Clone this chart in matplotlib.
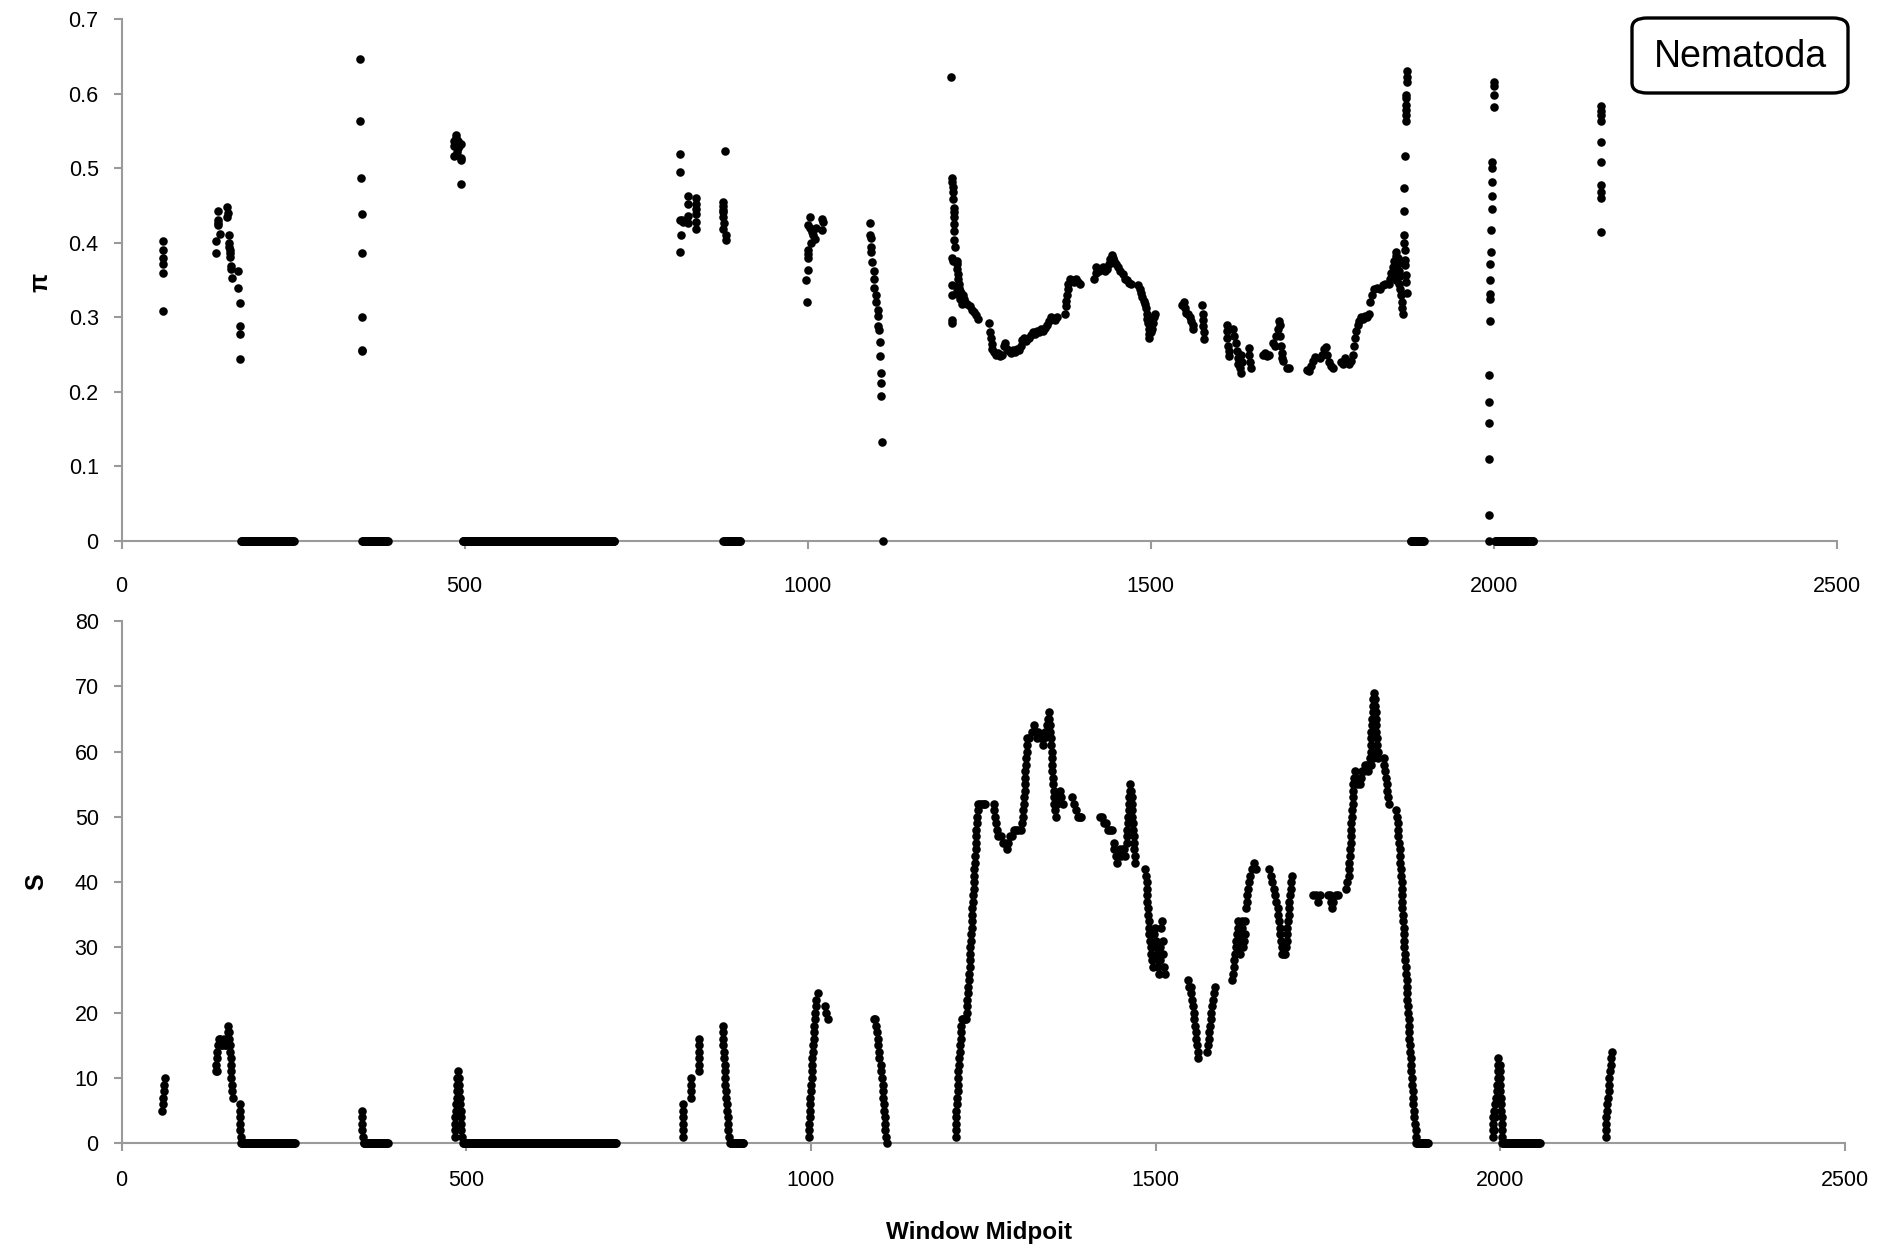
import numpy as np
import matplotlib
matplotlib.use("Agg")
import matplotlib.pyplot as plt
from matplotlib.patches import FancyBboxPatch

plt.rcParams["font.family"] = ["Liberation Sans", "DejaVu Sans"]

# ---------------- nucleotide diversity (pi) ----------------
pi_left_x = [60, 60, 61, 61, 61, 60,
             138, 138, 140, 140, 141, 141, 143, 154, 154, 155, 157, 157, 157, 158, 158, 158,
             159, 159, 161, 170, 170, 173, 173, 173, 173,
             348, 348, 349, 350, 350, 350, 350, 351,
             487, 485, 491, 494, 485, 490, 485, 494, 495, 494, 488, 492, 489,
             814, 814, 814, 815, 814, 817, 818, 826, 826, 826, 826, 837, 837, 837, 837, 837, 837,
             879, 876, 877, 876, 876, 877, 878, 877, 881, 881,
             1004, 1000, 1003, 1006, 1008, 1010, 1000, 1001, 1001, 1000, 998, 999, 1021, 1022, 1021,
             1012, 1005,
             1091, 1091, 1092, 1093, 1093, 1094, 1096, 1096, 1097, 1099, 1099, 1103, 1103, 1103,
             1104, 1105, 1106, 1107, 1107, 1107, 1108, 1110]
pi_left_y = [0.403, 0.390, 0.380, 0.372, 0.360, 0.308,
             0.403, 0.386, 0.443, 0.431, 0.427, 0.424, 0.412, 0.448, 0.435, 0.440, 0.411, 0.400,
             0.395, 0.391, 0.386, 0.381, 0.369, 0.365, 0.353, 0.362, 0.340, 0.319, 0.288, 0.278,
             0.244,
             0.647, 0.563, 0.487, 0.439, 0.387, 0.300, 0.256, 0.255,
             0.544, 0.537, 0.536, 0.533, 0.530, 0.527, 0.517, 0.514, 0.511, 0.479, 0.540, 0.530,
             0.522,
             0.519, 0.495, 0.431, 0.410, 0.388, 0.431, 0.428, 0.463, 0.452, 0.436, 0.427, 0.460,
             0.452, 0.445, 0.439, 0.428, 0.418,
             0.523, 0.455, 0.450, 0.444, 0.441, 0.434, 0.427, 0.419, 0.410, 0.404,
             0.435, 0.424, 0.420, 0.415, 0.410, 0.405, 0.390, 0.385, 0.380, 0.364, 0.350, 0.320,
             0.432, 0.428, 0.417, 0.420, 0.400,
             0.427, 0.410, 0.406, 0.395, 0.388, 0.374, 0.362, 0.352, 0.340, 0.330, 0.321, 0.310,
             0.302, 0.288, 0.283, 0.267, 0.248, 0.225, 0.212, 0.195, 0.133, 0.0]

pi_right_x = [1209,
              1211, 1211, 1212, 1212, 1212, 1213, 1213, 1213, 1214, 1214, 1214, 1215, 1211, 1212,
              1211, 1211, 1211, 1211,
              1217, 1218, 1218, 1219, 1219, 1220, 1221, 1222, 1224, 1226, 1228, 1230, 1233, 1236,
              1239, 1242, 1245, 1248, 1218, 1220, 1222, 1225,
              1265, 1266, 1267, 1268, 1269, 1271, 1274, 1277, 1280, 1283, 1286, 1288, 1290, 1293,
              1296, 1299, 1302, 1305, 1308, 1311, 1313, 1316, 1319, 1322, 1325, 1328, 1331, 1334,
              1337, 1340, 1343, 1346, 1349, 1352, 1355, 1358, 1361, 1364,
              1375, 1376, 1377, 1378, 1379, 1380, 1382, 1385, 1388, 1391, 1394, 1397,
              1418, 1420, 1421, 1424, 1427, 1430, 1433, 1436, 1439, 1441, 1443, 1445, 1447, 1450,
              1453, 1456, 1459, 1462, 1465, 1468, 1471,
              1482, 1484, 1486, 1488, 1490, 1492, 1493, 1494, 1495, 1496, 1497, 1497, 1498, 1500,
              1502, 1504, 1505, 1506,
              1546, 1548, 1550, 1552, 1555, 1557, 1559, 1561, 1562, 1575, 1576, 1576, 1577, 1578,
              1578,
              1611, 1612, 1612, 1613, 1614, 1614, 1620, 1622, 1624, 1626, 1627, 1628, 1630, 1631,
              1632, 1633, 1643, 1644, 1645, 1646, 1664, 1667, 1670, 1673, 1679, 1681, 1683, 1685,
              1687, 1688, 1689, 1690, 1691, 1692, 1693, 1699, 1701,
              1728, 1731, 1734, 1737, 1740, 1747, 1750, 1753, 1755, 1757, 1760, 1763, 1766, 1777,
              1780, 1783, 1786, 1789, 1792, 1795, 1797, 1798, 1800, 1802, 1804, 1806, 1809, 1812,
              1815, 1818, 1820, 1823, 1826, 1830, 1834, 1838, 1841, 1847, 1849, 1851, 1853, 1855,
              1857, 1858, 1860, 1862, 1863, 1862, 1864, 1865, 1866, 1867, 1868, 1855, 1858, 1860,
              1873, 1874, 1874, 1872, 1872, 1872, 1872, 1872, 1872, 1871, 1870, 1870, 1870, 1870,
              1871, 1871, 1871, 1872, 1872, 1873,
              1993, 1993, 1993, 1993, 1993, 1993, 1994, 1994, 1995, 1995, 1995, 1996, 1996, 1997,
              1997, 1997, 1997, 1998, 2000, 2000, 2000, 2000,
              2157, 2157, 2157, 2156, 2156, 2157, 2157, 2157, 2157, 2156]
pi_right_y = [0.622,
              0.487, 0.482, 0.475, 0.468, 0.459, 0.447, 0.441, 0.435, 0.425, 0.416, 0.404, 0.395,
              0.380, 0.376, 0.343, 0.330, 0.297, 0.292,
              0.376, 0.372, 0.365, 0.358, 0.352, 0.345, 0.340, 0.336, 0.333, 0.330, 0.325, 0.320,
              0.318, 0.315, 0.310, 0.307, 0.303, 0.298, 0.335, 0.330, 0.325, 0.318,
              0.292, 0.280, 0.272, 0.264, 0.258, 0.254, 0.250, 0.252, 0.248, 0.250, 0.262, 0.266,
              0.258, 0.255, 0.252, 0.256, 0.254, 0.258, 0.256, 0.262, 0.270, 0.272, 0.268, 0.272,
              0.276, 0.280, 0.278, 0.282, 0.280, 0.284, 0.282, 0.286, 0.290, 0.295, 0.300, 0.298,
              0.296, 0.300,
              0.305, 0.315, 0.322, 0.330, 0.338, 0.345, 0.352, 0.350, 0.348, 0.352, 0.347, 0.345,
              0.352, 0.360, 0.367, 0.362, 0.365, 0.368, 0.362, 0.365, 0.372, 0.378, 0.384, 0.380,
              0.376, 0.372, 0.368, 0.362, 0.358, 0.352, 0.350, 0.346, 0.345,
              0.343, 0.338, 0.333, 0.328, 0.322, 0.318, 0.312, 0.305, 0.298, 0.292, 0.285, 0.278,
              0.273, 0.280, 0.285, 0.292, 0.300, 0.304,
              0.316, 0.321, 0.312, 0.306, 0.304, 0.300, 0.295, 0.290, 0.285, 0.316, 0.305, 0.296,
              0.288, 0.280, 0.271,
              0.290, 0.282, 0.272, 0.262, 0.255, 0.248, 0.285, 0.275, 0.265, 0.255, 0.245, 0.238,
              0.232, 0.226, 0.250, 0.240, 0.259, 0.250, 0.240, 0.232, 0.250, 0.252, 0.248, 0.250,
              0.265, 0.262, 0.275, 0.285, 0.295, 0.290, 0.275, 0.262, 0.252, 0.245, 0.242, 0.232,
              0.232,
              0.230, 0.228, 0.235, 0.242, 0.247, 0.245, 0.250, 0.258, 0.260, 0.250, 0.240, 0.235,
              0.232, 0.240, 0.237, 0.245, 0.240, 0.238, 0.242, 0.250, 0.262, 0.272, 0.282, 0.290,
              0.295, 0.300, 0.298, 0.302, 0.300, 0.305, 0.320, 0.330, 0.338, 0.340, 0.338, 0.343,
              0.345, 0.345, 0.352, 0.360, 0.368, 0.375, 0.383, 0.388, 0.380, 0.362, 0.355, 0.345,
              0.338, 0.330, 0.320, 0.312, 0.305, 0.360, 0.350, 0.372,
              0.630, 0.622, 0.616, 0.598, 0.594, 0.585, 0.578, 0.571, 0.563, 0.516, 0.473, 0.443,
              0.411, 0.400, 0.391, 0.377, 0.370, 0.357, 0.348, 0.333,
              0.035, 0.0, 0.110, 0.158, 0.187, 0.223, 0.295, 0.324, 0.332, 0.350, 0.372, 0.388,
              0.417, 0.446, 0.463, 0.482, 0.500, 0.508, 0.582, 0.598, 0.610, 0.616,
              0.583, 0.577, 0.571, 0.563, 0.535, 0.508, 0.477, 0.468, 0.460, 0.414]

# windows (first, last midpoint) where pi is zero
pi_zero_runs = [(174, 251), (351, 388), (497, 718), (877, 902), (1879, 1898), (2002, 2058)]

# ---------------- segregating sites (S) ----------------
s_left_x = [59, 60, 60, 61, 62, 63,
            137, 137, 138, 138, 139, 140, 141, 142, 144, 146, 148, 150, 152, 153, 154, 155, 156,
            156, 157, 157, 158, 158, 159, 159, 160, 160, 161, 171, 171, 172, 172, 172, 173,
            348, 348, 349, 349, 350,
            483, 483, 484, 484, 485, 485, 486, 486, 487, 487, 488, 489, 490, 490, 491, 491, 492,
            492, 493, 493, 494,
            814, 814, 814, 814, 814, 814, 826, 826, 826, 826, 838, 838, 838, 838, 838, 838,
            872, 872, 873, 873, 874, 874, 875, 875, 876, 876, 877, 877, 878, 878, 879, 879, 880, 881,
            997, 997, 997, 998, 998, 999, 999, 1000, 1000, 1001, 1001, 1002, 1002, 1003, 1003,
            1004, 1004, 1005, 1006, 1006, 1007, 1008, 1010, 1021, 1022, 1025,
            1091, 1093, 1095, 1096, 1097, 1097, 1098, 1099, 1101, 1102, 1103, 1104, 1104, 1105,
            1106, 1106, 1107, 1107, 1108, 1109, 1110]
s_left_y = [5, 6, 7, 8, 9, 10,
            11, 12, 11, 13, 14, 15, 16, 16, 15, 15, 16, 15, 15, 16, 17, 18, 17,
            16, 15, 14, 13, 12, 11, 10, 9, 8, 7, 6, 5, 4, 3, 2, 1,
            5, 4, 3, 2, 1,
            1, 2, 3, 4, 5, 6, 7, 8, 9, 10, 11, 10, 9, 8, 7, 6, 5,
            4, 3, 2, 1,
            1, 2, 3, 4, 5, 6, 7, 8, 9, 10, 11, 12, 13, 14, 15, 16,
            18, 17, 16, 15, 14, 13, 12, 11, 10, 9, 8, 7, 6, 5, 4, 3, 2, 1,
            1, 2, 3, 4, 5, 6, 7, 8, 9, 10, 11, 12, 13, 14, 15,
            16, 17, 18, 19, 20, 21, 22, 23, 21, 20, 19,
            19, 19, 18, 17, 16, 15, 14, 13, 12, 11, 10, 9, 8, 7,
            6, 5, 4, 3, 2, 1, 0]

s_right_x = [1210, 1210, 1210, 1211, 1211, 1212, 1212, 1213, 1213, 1214, 1214, 1215, 1215, 1216,
             1216, 1217, 1217, 1218, 1219, 1221, 1223, 1225, 1226, 1227, 1227, 1228, 1228, 1229,
             1229, 1230, 1230, 1231, 1231, 1232, 1232, 1233, 1233, 1234, 1234, 1235, 1235, 1236,
             1236, 1237, 1237, 1238, 1238, 1239, 1239, 1240, 1240, 1241, 1241, 1242, 1243, 1245,
             1248, 1251, 1253,
             1265, 1266, 1267, 1268, 1270, 1272, 1275, 1278, 1281, 1284, 1286, 1289, 1292, 1295,
             1298, 1301, 1304, 1306, 1307, 1308, 1309, 1309, 1310, 1310, 1311, 1311, 1312, 1312,
             1313, 1313, 1314, 1316, 1320, 1324, 1326, 1328, 1330, 1333, 1336, 1338, 1340, 1342,
             1344, 1345, 1346, 1347, 1347, 1348, 1348, 1349, 1349, 1350, 1350, 1351, 1351, 1352,
             1352, 1353, 1354, 1355, 1357, 1359, 1361, 1363, 1365,
             1378, 1381, 1384, 1387, 1390, 1392,
             1419, 1422, 1425, 1428, 1431, 1434, 1437, 1439, 1440, 1442, 1444, 1446, 1448, 1450,
             1452, 1454, 1456,
             1458, 1459, 1459, 1460, 1460, 1461, 1461, 1462, 1463, 1463, 1464, 1465, 1465, 1466,
             1466, 1467, 1467, 1468, 1468, 1469, 1470, 1470,
             1485, 1486, 1487, 1487, 1488, 1488, 1489, 1489, 1490, 1491, 1491, 1492, 1493, 1494,
             1495, 1496, 1498, 1499, 1500, 1501, 1502, 1503, 1504, 1505, 1506, 1507, 1508, 1509,
             1510, 1511, 1512, 1513,
             1547, 1549, 1551, 1552, 1553, 1554, 1555, 1556, 1557, 1558, 1559, 1560, 1561, 1562,
             1575, 1576, 1577, 1578, 1579, 1580, 1581, 1582, 1583, 1584, 1586,
             1611, 1612, 1613, 1614, 1615, 1616, 1617, 1618, 1619, 1620, 1621, 1622, 1623, 1624,
             1625, 1626, 1627, 1628, 1629, 1630, 1631, 1632, 1633, 1634, 1635, 1637, 1640, 1643,
             1646,
             1665, 1667, 1669, 1671, 1673, 1675, 1677, 1678, 1679, 1680, 1681, 1682, 1683, 1684,
             1686, 1688, 1689, 1690, 1691, 1691, 1692, 1693, 1693, 1694, 1695, 1696, 1697, 1698,
             1728, 1732, 1735, 1738, 1750, 1753, 1755, 1756, 1758, 1761, 1764, 1776, 1778,
             1780, 1781, 1781, 1782, 1782, 1783, 1783, 1784, 1784, 1785, 1785, 1786, 1786, 1787,
             1787, 1788, 1789, 1790, 1792, 1794, 1796, 1798, 1800, 1802, 1804, 1806, 1808, 1810,
             1811, 1812, 1812, 1813, 1813, 1814, 1814, 1815, 1815, 1816, 1817, 1818, 1818, 1819,
             1819, 1820, 1820, 1821, 1821, 1822, 1822, 1813, 1816, 1818,
             1831, 1832, 1833, 1834, 1835, 1836, 1837, 1838, 1849, 1850, 1851, 1851,
             1852, 1853, 1854, 1855, 1855, 1856, 1856, 1857, 1857, 1858, 1858, 1858, 1859, 1859,
             1860, 1860, 1861, 1861, 1862, 1862, 1863, 1863, 1864, 1864, 1865, 1865, 1866, 1866,
             1867, 1867, 1868, 1868, 1869, 1869, 1870, 1871, 1871, 1872, 1872, 1873, 1874, 1874,
             1875, 1875, 1876, 1877, 1878,
             1990, 1990, 1990, 1990, 1991, 1993, 1994, 1995, 1995, 1996, 1996, 1997, 1997, 1999,
             1999, 2000, 2000, 2000, 2001, 2001, 2001, 2002, 2002, 2002, 2003, 1991, 1992,
             2153, 2153, 2154, 2154, 2155, 2155, 2156, 2157, 2157, 2158, 2159, 2160, 2161, 2162]
s_right_y = [1, 2, 3, 4, 5, 6, 7, 8, 9, 10, 11, 12, 13, 14,
             15, 16, 17, 18, 19, 19, 19, 19, 20, 21, 22, 23, 24, 25,
             26, 27, 28, 29, 30, 31, 32, 33, 34, 35, 36, 37, 38, 39,
             40, 41, 42, 43, 44, 45, 46, 47, 48, 49, 50, 51, 52, 52,
             52, 52, 52,
             52, 51, 50, 49, 48, 47, 47, 46, 46, 45, 46, 47, 47, 48,
             48, 48, 48, 49, 50, 51, 52, 53, 54, 55, 56, 57, 58, 59,
             60, 61, 62, 62, 63, 64, 63, 62, 63, 62, 61, 62, 63, 64,
             65, 66, 65, 64, 63, 62, 61, 60, 59, 58, 57, 56, 55, 54,
             53, 52, 51, 50, 52, 53, 54, 53, 52,
             53, 52, 51, 50, 50, 50,
             50, 50, 49, 49, 48, 48, 48, 46, 45, 44, 43, 44, 45, 44,
             45, 45, 44,
             46, 47, 48, 49, 50, 51, 52, 53, 54, 55, 54, 53, 52, 51,
             50, 49, 48, 47, 46, 45, 44, 43,
             42, 41, 40, 39, 38, 37, 36, 35, 34, 33, 32, 31, 30, 29,
             28, 27, 32, 33, 31, 30, 29, 28, 27, 26, 28, 30, 33, 34,
             31, 29, 27, 26,
             25, 24, 24, 23, 22, 21, 20, 19, 18, 17, 16, 15, 14, 13,
             14, 15, 16, 17, 18, 19, 20, 21, 22, 23, 24,
             25, 26, 27, 28, 29, 30, 31, 32, 33, 34, 30, 29, 31, 32,
             33, 34, 30, 31, 32, 34, 36, 37, 38, 39, 40, 41, 42, 43,
             42,
             42, 41, 40, 39, 38, 37, 36, 35, 34, 33, 32, 31, 30, 29,
             29, 29, 30, 31, 32, 33, 34, 35, 36, 37, 38, 39, 40, 41,
             38, 38, 37, 38, 38, 38, 37, 36, 37, 38, 38, 39, 40,
             41, 42, 43, 44, 45, 46, 47, 48, 49, 50, 51, 52, 53, 54,
             55, 56, 57, 56, 55, 56, 55, 56, 57, 57, 58, 58, 57, 58,
             59, 60, 61, 62, 63, 64, 65, 66, 67, 68, 69, 68, 67, 66,
             65, 64, 63, 62, 61, 60, 59, 58, 59, 60,
             59, 58, 57, 56, 55, 54, 53, 52, 51, 50, 49, 48,
             47, 46, 45, 44, 43, 42, 41, 40, 39, 38, 37, 36, 35, 34,
             33, 32, 31, 30, 29, 28, 27, 26, 25, 24, 23, 22, 21, 20,
             19, 18, 17, 16, 15, 14, 13, 12, 11, 10, 9, 8, 7, 6,
             5, 4, 3, 2, 1,
             1, 2, 3, 4, 5, 6, 7, 8, 9, 10, 11, 12, 13, 12,
             11, 10, 9, 8, 7, 6, 5, 4, 3, 2, 1, 2, 4,
             1, 2, 3, 4, 5, 6, 7, 8, 9, 10, 11, 12, 13, 14]

# windows (first, last midpoint) where S is zero
s_zero_runs = [(173, 251), (351, 386), (495, 717), (883, 902), (1878, 1895), (2003, 2057)]

x_ticks = [0, 500, 1000, 1500, 2000, 2500]
pi_ticks = [0, 0.1, 0.2, 0.3, 0.4, 0.5, 0.6, 0.7]
s_ticks = [0, 10, 20, 30, 40, 50, 60, 70, 80]
panel_label = "Nematoda"


def expand(runs):
    xs = np.concatenate([np.arange(a, b + 1, 1.0) for a, b in runs])
    return xs, np.zeros_like(xs)


axis_grey = "#9a9a9a"
dot_kw = dict(s=38, c="black", linewidths=0, clip_on=False, zorder=3)

fig = plt.figure(figsize=(18.83, 12.55), dpi=100)
ax1 = fig.add_axes([0.0646, 0.5689, 0.9108, 0.4158])
ax2 = fig.add_axes([0.0646, 0.0890, 0.9152, 0.4162])

zx, zy = expand(pi_zero_runs)
ax1.scatter(np.r_[pi_left_x, pi_right_x, zx], np.r_[pi_left_y, pi_right_y, zy], **dot_kw)
zx, zy = expand(s_zero_runs)
ax2.scatter(np.r_[s_left_x, s_right_x, zx], np.r_[s_left_y, s_right_y, zy], **dot_kw)

for ax, yt, fmt, xpad in ((ax1, pi_ticks, "{:g}", 20), (ax2, s_ticks, "{:d}", 14)):
    ax.set_xlim(0, 2500)
    ax.set_ylim(yt[0], yt[-1])
    ax.set_xticks(x_ticks)
    ax.set_xticklabels([str(t) for t in x_ticks])
    ax.set_yticks(yt)
    ax.set_yticklabels([fmt.format(t) for t in yt])
    for side in ("top", "right"):
        ax.spines[side].set_visible(False)
    for side in ("left", "bottom"):
        ax.spines[side].set_color(axis_grey)
        ax.spines[side].set_linewidth(1.5)
    ax.tick_params(axis="both", direction="out", length=5.5, width=1.5, color=axis_grey,
                   labelsize=15.5, labelcolor="black")
    ax.tick_params(axis="x", pad=xpad)
    ax.tick_params(axis="y", pad=11)

fig.text(40 / 1883, 1 - 282 / 1255, "π", rotation=90, ha="center", va="center",
         fontsize=18, fontweight="bold")
fig.text(36 / 1883, 1 - 882 / 1255, "S", rotation=90, ha="center", va="center",
         fontsize=18, fontweight="bold")
fig.text(979 / 1883, 1 - 1233 / 1255, "Window Midpoit", ha="center", va="center",
         fontsize=17.5, fontweight="bold")

# framed taxon label in the upper right corner
box = FancyBboxPatch((1632 / 1883, 1 - 93 / 1255), 216 / 1883, 75 / 1255,
                     boxstyle="round,pad=0,rounding_size=0.008",
                     transform=fig.transFigure, facecolor="white", edgecolor="black",
                     linewidth=2.4, zorder=5)
fig.add_artist(box)
fig.text(1740 / 1883, 1 - 57 / 1255, panel_label, ha="center", va="center",
         fontsize=27, zorder=6)

fig.savefig("out.png", dpi=100)
